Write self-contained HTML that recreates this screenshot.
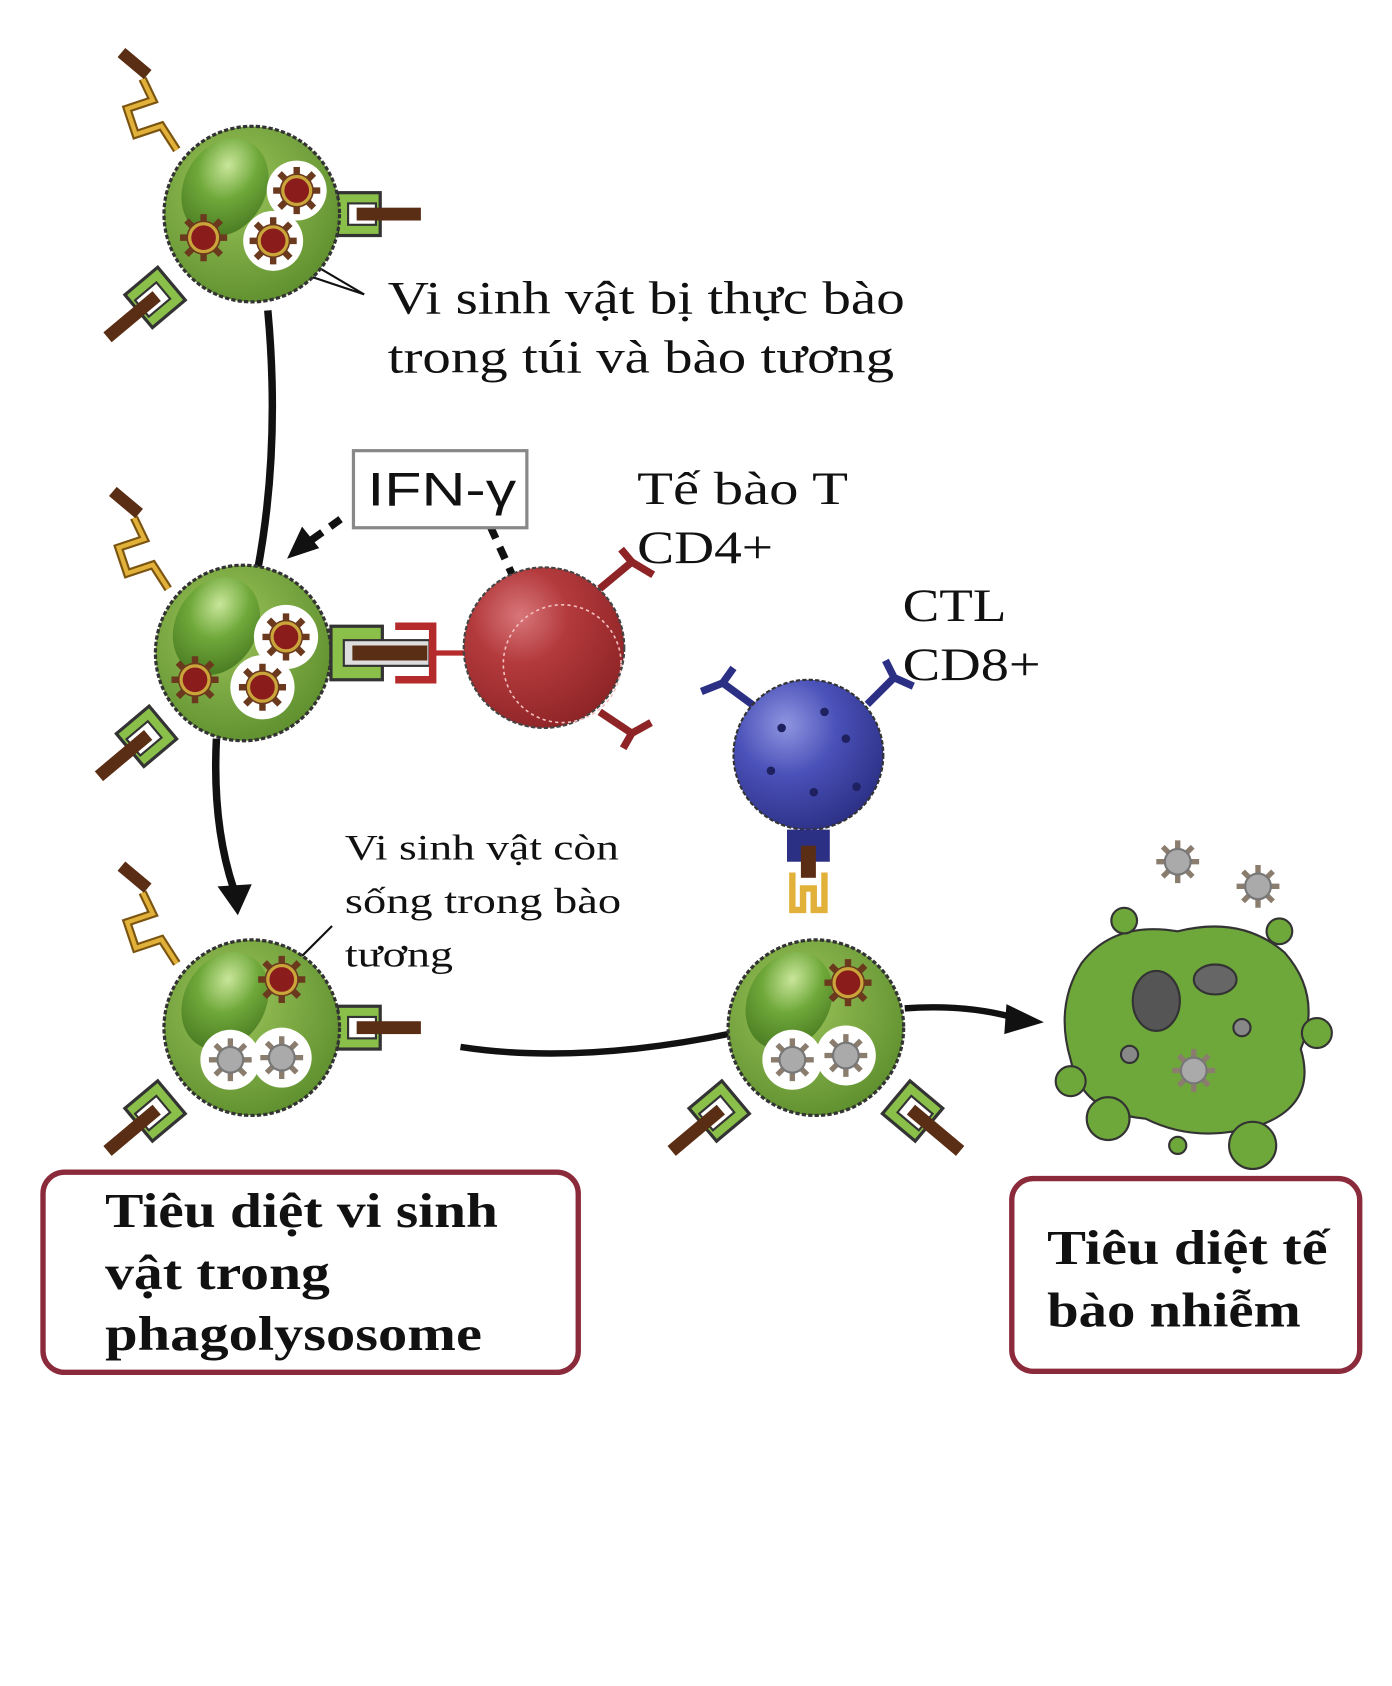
<!DOCTYPE html>
<html><head><meta charset="utf-8"><style>
html,body{margin:0;padding:0;background:#fff}
svg{display:block}
.t{font-family:"Liberation Serif",serif;fill:#111}
</style></head><body>
<svg width="1392" height="1686" viewBox="0 0 1300 1575" xmlns="http://www.w3.org/2000/svg">
<defs>
<radialGradient id="gG" cx="40%" cy="35%" r="70%"><stop offset="0" stop-color="#9cc45a"/><stop offset="1" stop-color="#5e8f2e"/></radialGradient>
<radialGradient id="gN" cx="40%" cy="30%" r="70%"><stop offset="0" stop-color="#c9e69a"/><stop offset=".5" stop-color="#6fa83a"/><stop offset="1" stop-color="#4d7f24"/></radialGradient>
<radialGradient id="gR" cx="35%" cy="30%" r="75%"><stop offset="0" stop-color="#d8767a"/><stop offset=".4" stop-color="#b33a3c"/><stop offset="1" stop-color="#8e2426"/></radialGradient>
<radialGradient id="gB" cx="35%" cy="30%" r="75%"><stop offset="0" stop-color="#8f95e0"/><stop offset=".45" stop-color="#4a51b8"/><stop offset="1" stop-color="#2c3085"/></radialGradient>
<g id="microbe"><circle r="16" fill="#6b3a1e"/><g stroke="#6b3a1e" stroke-width="6"><line x1="-22" y1="0" x2="22" y2="0"/><line x1="0" y1="-22" x2="0" y2="22"/><line x1="-16" y1="-16" x2="16" y2="16"/><line x1="-16" y1="16" x2="16" y2="-16"/></g><circle r="13" fill="#8a1c1c" stroke="#c9a53a" stroke-width="3"/></g>
<g id="deadm"><g stroke="#8a7d6e" stroke-width="5"><line x1="-20" y1="0" x2="20" y2="0"/><line x1="0" y1="-20" x2="0" y2="20"/><line x1="-14" y1="-14" x2="14" y2="14"/><line x1="-14" y1="14" x2="14" y2="-14"/></g><circle r="12" fill="#aaa" stroke="#777" stroke-width="2"/></g>
<g id="cell"><circle r="82" fill="url(#gG)" stroke="#333" stroke-width="3" stroke-dasharray="4 2"/><ellipse cx="-25" cy="-25" rx="38" ry="48" fill="url(#gN)" transform="rotate(30 -25 -25)"/></g>
<g id="recY"><path d="M0 0 l-18 -28 l-30 10 l-10 -30 l30 -10 l-12 -25" fill="none" stroke="#7a5410" stroke-width="10"/><path d="M0 0 l-18 -28 l-30 10 l-10 -30 l30 -10 l-12 -25" fill="none" stroke="#e1b13a" stroke-width="5"/><rect x="-70" y="-108" width="40" height="14" fill="#5a2e14" transform="rotate(40 -50 -100)"/></g>
<g id="recG"><rect x="0" y="-20" width="40" height="40" fill="#8ac04a" stroke="#333" stroke-width="3"/><rect x="10" y="-10" width="26" height="20" fill="#fff" stroke="#333" stroke-width="2"/><rect x="18" y="-6" width="60" height="12" fill="#5a2e14"/></g>
</defs>

<path d="M250 290 Q262 420 240 535" fill="none" stroke="#111" stroke-width="7"/>
<path d="M202 690 Q198 770 218 830" fill="none" stroke="#111" stroke-width="7"/>
<polygon points="203,828 235,826 222,855" fill="#111"/>
<path d="M430 978 Q540 995 685 965" fill="none" stroke="#111" stroke-width="6"/>
<path d="M845 942 Q900 938 945 950" fill="none" stroke="#111" stroke-width="6"/>
<polygon points="940,938 975,955 938,966" fill="#111"/>
<path d="M318 485 L290 505" stroke="#111" stroke-width="7" stroke-dasharray="12 9"/>
<polygon points="268,522 282,492 298,512" fill="#111"/>
<path d="M458 492 L482 545" stroke="#111" stroke-width="7" stroke-dasharray="12 9"/>
<line x1="205" y1="230" x2="340" y2="275" stroke="#111" stroke-width="2"/>
<line x1="255" y1="225" x2="340" y2="275" stroke="#111" stroke-width="2"/>
<line x1="265" y1="910" x2="310" y2="865" stroke="#111" stroke-width="2"/>

<g transform="translate(235,200)">
<use href="#recY" transform="translate(-70,-60) scale(0.8)"/><use href="#recG" transform="translate(80,0)"/><use href="#recG" transform="translate(-75,65) rotate(140)"/>
<use href="#cell"/><circle cx="42" cy="-22" r="28" fill="#fff"/><use href="#microbe" transform="translate(42,-22)"/><circle cx="20" cy="25" r="28" fill="#fff"/><use href="#microbe" transform="translate(20,25)"/><use href="#microbe" transform="translate(-45,22)"/>
</g>
<g transform="translate(227,610)">
<use href="#recY" transform="translate(-70,-60) scale(0.8)"/><use href="#recG" transform="translate(-75,65) rotate(140)"/>
<use href="#cell"/><circle cx="40" cy="-15" r="30" fill="#fff"/><use href="#microbe" transform="translate(40,-15)"/><circle cx="18" cy="32" r="30" fill="#fff"/><use href="#microbe" transform="translate(18,32)"/><use href="#microbe" transform="translate(-45,25)"/>
<g transform="translate(82,0)"><rect x="0" y="-25" width="48" height="50" fill="#8ac04a" stroke="#333" stroke-width="3"/><rect x="12" y="-12" width="80" height="24" fill="#ddd" stroke="#333" stroke-width="2"/><rect x="20" y="-7" width="70" height="14" fill="#5a2e14"/><path d="M60 -25 h35 v50 h-35" fill="none" stroke="#b52a2a" stroke-width="7"/><line x1="95" y1="0" x2="125" y2="0" stroke="#b52a2a" stroke-width="5"/></g>
</g>
<g>
<path d="M560 550 l30 -25 l-10 -12 M590 525 l20 12 M560 665 l30 20 l-8 14 M590 685 l18 -10" stroke="#8e2426" stroke-width="7" fill="none"/>
<circle cx="508" cy="605" r="75" fill="url(#gR)" stroke="#444" stroke-width="2" stroke-dasharray="4 2"/>
<circle cx="525" cy="620" r="55" fill="none" stroke="#f3c0c0" stroke-width="1.5" stroke-dasharray="3 3"/>
</g>
<g>
<path d="M705 660 l-30 -22 l10 -14 M675 638 l-20 8 M810 658 l25 -25 l18 8 M835 633 l-8 -16" stroke="#2c3085" stroke-width="7" fill="none"/>
<circle cx="755" cy="705" r="70" fill="url(#gB)" stroke="#333" stroke-width="2" stroke-dasharray="4 2"/>
<g fill="#1e2060"><circle cx="730" cy="680" r="4"/><circle cx="790" cy="690" r="4"/><circle cx="760" cy="740" r="4"/><circle cx="720" cy="720" r="4"/><circle cx="800" cy="735" r="4"/><circle cx="770" cy="665" r="4"/></g>
<rect x="735" y="775" width="40" height="30" fill="#2c3085"/><rect x="748" y="790" width="14" height="30" fill="#5a2e14"/>
<path d="M740 815 v35 h10 v-20 h10 v20 h10 v-35" fill="none" stroke="#e1b13a" stroke-width="6"/>
</g>
<g transform="translate(235,960)">
<use href="#recY" transform="translate(-70,-60) scale(0.8)"/><use href="#recG" transform="translate(80,0)"/><use href="#recG" transform="translate(-75,65) rotate(140)"/>
<use href="#cell"/><use href="#microbe" transform="translate(28,-45)"/><circle cx="-20" cy="30" r="28" fill="#fff"/><use href="#deadm" transform="translate(-20,30)"/><circle cx="28" cy="28" r="28" fill="#fff"/><use href="#deadm" transform="translate(28,28)"/>
</g>
<g transform="translate(762,960)">
<use href="#recG" transform="translate(-75,65) rotate(140)"/><use href="#recG" transform="translate(75,65) rotate(40)"/>
<use href="#cell"/><use href="#microbe" transform="translate(30,-42)"/><circle cx="-22" cy="30" r="28" fill="#fff"/><use href="#deadm" transform="translate(-22,30)"/><circle cx="28" cy="26" r="28" fill="#fff"/><use href="#deadm" transform="translate(28,26)"/>
</g>
<g fill="#6fa83a" stroke="#333" stroke-width="2">
<path d="M1010 900 Q1040 860 1100 870 Q1160 855 1200 890 Q1235 930 1215 980 Q1230 1030 1180 1050 Q1120 1070 1070 1045 Q1010 1040 1000 990 Q985 940 1010 900Z"/>
<circle cx="1035" cy="1045" r="20"/><circle cx="1170" cy="1070" r="22"/><circle cx="1230" cy="965" r="14"/><circle cx="1050" cy="860" r="12"/><circle cx="1195" cy="870" r="12"/><circle cx="1000" cy="1010" r="14"/><circle cx="1100" cy="1070" r="8"/>
<ellipse cx="1080" cy="935" rx="22" ry="28" fill="#555"/><ellipse cx="1135" cy="915" rx="20" ry="14" fill="#666"/><circle cx="1055" cy="985" r="8" fill="#888"/><circle cx="1160" cy="960" r="8" fill="#888"/>
</g>
<use href="#deadm" transform="translate(1100,805)"/><use href="#deadm" transform="translate(1175,828)"/><use href="#deadm" transform="translate(1115,1000)"/>

<text class="t" font-size="43"><tspan x="362" y="293" textLength="483" lengthAdjust="spacingAndGlyphs">Vi sinh vật bị thực bào</tspan><tspan x="362" y="348" textLength="473" lengthAdjust="spacingAndGlyphs">trong túi và bào tương</tspan></text>
<rect x="330" y="421" width="162" height="72" fill="#fff" stroke="#888" stroke-width="3"/>
<text x="343" y="472" font-family="Liberation Sans,sans-serif" font-size="44" fill="#111" textLength="139" lengthAdjust="spacingAndGlyphs">IFN-γ</text>
<text class="t" font-size="43"><tspan x="595" y="471" textLength="197" lengthAdjust="spacingAndGlyphs">Tế bào T</tspan><tspan x="595" y="526" textLength="127" lengthAdjust="spacingAndGlyphs">CD4+</tspan></text>
<text class="t" font-size="43"><tspan x="843" y="580" textLength="97" lengthAdjust="spacingAndGlyphs">CTL</tspan><tspan x="843" y="635" textLength="129" lengthAdjust="spacingAndGlyphs">CD8+</tspan></text>
<text class="t" font-size="34"><tspan x="322" y="803" textLength="256" lengthAdjust="spacingAndGlyphs">Vi sinh vật còn</tspan><tspan x="322" y="853" textLength="258" lengthAdjust="spacingAndGlyphs">sống trong bào</tspan><tspan x="322" y="903" textLength="101" lengthAdjust="spacingAndGlyphs">tương</tspan></text>
<rect x="40" y="1095" width="500" height="187" rx="20" fill="#fff" stroke="#8b2a3a" stroke-width="5"/>
<text class="t" font-size="45" font-weight="bold"><tspan x="98" y="1146" textLength="367" lengthAdjust="spacingAndGlyphs">Tiêu diệt vi sinh</tspan><tspan x="98" y="1204" textLength="210" lengthAdjust="spacingAndGlyphs">vật trong</tspan><tspan x="98" y="1261" textLength="352" lengthAdjust="spacingAndGlyphs">phagolysosome</tspan></text>
<rect x="945" y="1101" width="325" height="180" rx="20" fill="#fff" stroke="#8b2a3a" stroke-width="5"/>
<text class="t" font-size="45" font-weight="bold"><tspan x="978" y="1181" textLength="262" lengthAdjust="spacingAndGlyphs">Tiêu diệt tế</tspan><tspan x="978" y="1239" textLength="237" lengthAdjust="spacingAndGlyphs">bào nhiễm</tspan></text>
</svg>
</body></html>
